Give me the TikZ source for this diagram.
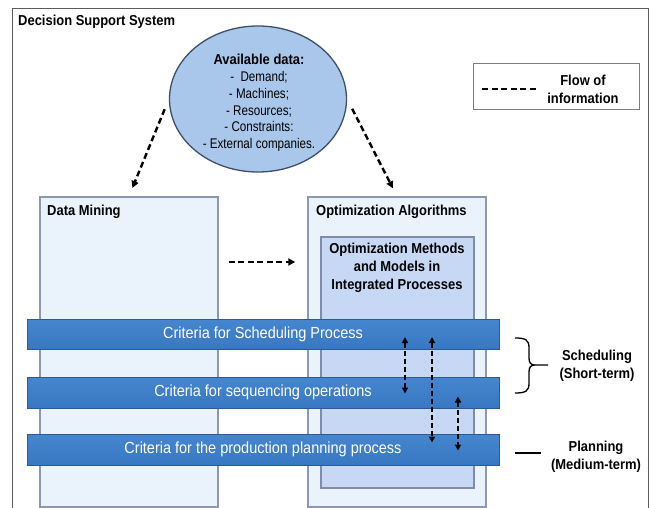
\documentclass[tikz,border=0pt]{standalone}
\usepackage{fontspec}
\setmainfont[FakeStretch=0.9]{Liberation Sans}
\newfontfamily\narrowfont[FakeStretch=0.83]{Liberation Sans}
\usetikzlibrary{arrows.meta,shapes.geometric}

\definecolor{framegray}{HTML}{5C5C5C}
\definecolor{boxfill}{HTML}{EAF2FC}
\definecolor{boxline}{HTML}{8C98AC}
\definecolor{innerfill}{HTML}{C6D8F3}
\definecolor{innerline}{HTML}{7F8CA5}
\definecolor{barfill}{HTML}{3878C2}
\definecolor{bartop}{HTML}{4586CF}
\definecolor{barline}{HTML}{2B5B96}
\definecolor{ellfill}{HTML}{A9C7EB}
\definecolor{ellline}{HTML}{3F4F68}

\tikzset{
  lbl/.style={font=\fontsize{14.4pt}{18pt}\selectfont\bfseries, inner sep=0pt, align=center},
  itemtext/.style={font=\narrowfont\fontsize{14pt}{16.8pt}\selectfont, inner sep=0pt, align=center},
  bartext/.style={font=\fontsize{16.1pt}{19pt}\selectfont, text=white, inner sep=0pt},
  colbox/.style={draw=boxline, fill=boxfill, line width=1.4pt, inner sep=0pt},
  innerbox/.style={draw=innerline, fill=innerfill, line width=1.4pt, inner sep=0pt},
  bar/.style={draw=barline, line width=1pt, top color=bartop, bottom color=barfill,
              minimum width=472pt, inner sep=0pt},
  flow/.style={line width=2.4pt, dash pattern=on 6pt off 3.5pt,
               -{Triangle[length=7pt,width=7pt]}},
  flowboth/.style={line width=2.3pt, dash pattern=on 5pt off 3pt,
               {Triangle[length=6pt,width=6pt]}-{Triangle[length=6pt,width=6pt]}},
}

\begin{document}
\begin{tikzpicture}[x=1pt,y=-1pt]
\useasboundingbox (0,0) rectangle (654,508);
\fill[white] (0,0) rectangle (654,508);

% outer frame of the decision support system
\draw[framegray, line width=1pt] (12,508) -- (12,9) -- (648,9) -- (648,508);
\node[lbl, anchor=west] (title) at (18,22) {Decision Support System};

% available data
\node[ellipse, draw=ellline, fill=ellfill, line width=1.3pt,
      minimum width=177pt, minimum height=146pt, inner sep=0pt] (ell) at (258,99) {};
\node[itemtext] (data) at (259,103)
  {{\rmfamily\fontsize{14.4pt}{18pt}\selectfont\bfseries Available data:}\\
   -\ \ Demand;\\ - Machines;\\ - Resources;\\ - Constraints:\\ - External companies.};

% legend
\node[draw=framegray!80, fill=white, line width=1pt, minimum width=166pt,
      minimum height=46pt, inner sep=0pt] (legend) at (556,87) {};
\coordinate (lgA) at (482,89);
\coordinate (lgB) at (538,89);
\draw[line width=2.4pt, dash pattern=on 6pt off 3.5pt] (lgA) -- (lgB);
\node[lbl] (lgtext) at (583,89) {Flow of\\information};

% the two columns
\node[colbox, minimum width=178pt, minimum height=310pt] (dm) at (129,352) {};
\node[lbl, anchor=west] (dmlbl) at (47,212) {Data Mining};
\node[colbox, minimum width=178pt, minimum height=310pt] (oa) at (397,352) {};
\node[lbl, anchor=west] (oalbl) at (316,212) {Optimization Algorithms};
\node[innerbox, minimum width=153pt, minimum height=251pt] (om) at (397.5,362.5) {};
\node[lbl, anchor=north] (omlbl) at (397,243)
  {Optimization Methods\\and Models in\\Integrated Processes};

% criteria bars
\node[bar, minimum height=30pt] (b1) at (263,334) {};
\node[bartext] (b1t) at (b1.center) {Criteria for Scheduling Process};
\node[bar, minimum height=31pt] (b2) at (263,392.5) {};
\node[bartext] (b2t) at (b2.center) {Criteria for sequencing operations};
\node[bar, minimum height=31pt] (b3) at (263,449.5) {};
\node[bartext] (b3t) at (b3.center) {Criteria for the production planning process};

% information flow
\draw[flow, shorten <=11pt, shorten >=9pt] (ell.west) -- (dm.north);
\draw[flow, shorten <=11pt, shorten >=9pt] (ell.east) -- (oa.north);
\draw[flow, shorten <=10pt, shorten >=12pt] (dm.east |- 0,262) -- (oa.west |- 0,262);
\draw[flowboth, shorten <=3pt, shorten >=-1pt] (405,0 |- b1) -- (405,0 |- b2);
\draw[flowboth, shorten <=3pt, shorten >=7pt] (432,0 |- b1) -- (432,0 |- b3);
\draw[flowboth, shorten <=4pt, shorten >=-1pt] (458,0 |- b2) -- (458,0 |- b3);

% horizons
\draw[line width=1.3pt]
  (515,338) .. controls (526,338) and (529,340) .. (529,348) -- (529,358)
  .. controls (529,363) and (531,365) .. (535,365) -- (548,365)
  (535,365) .. controls (531,365) and (529,367) .. (529,372) -- (529,383)
  .. controls (529,391) and (526,393) .. (515,393);
\node[lbl] (sched) at (597,366) {Scheduling\\(Short-term)};
\draw[line width=1.3pt] (515,453) -- (541,453);
\node[lbl] (plan) at (596,457) {Planning\\(Medium-term)};
\end{tikzpicture}
\end{document}
